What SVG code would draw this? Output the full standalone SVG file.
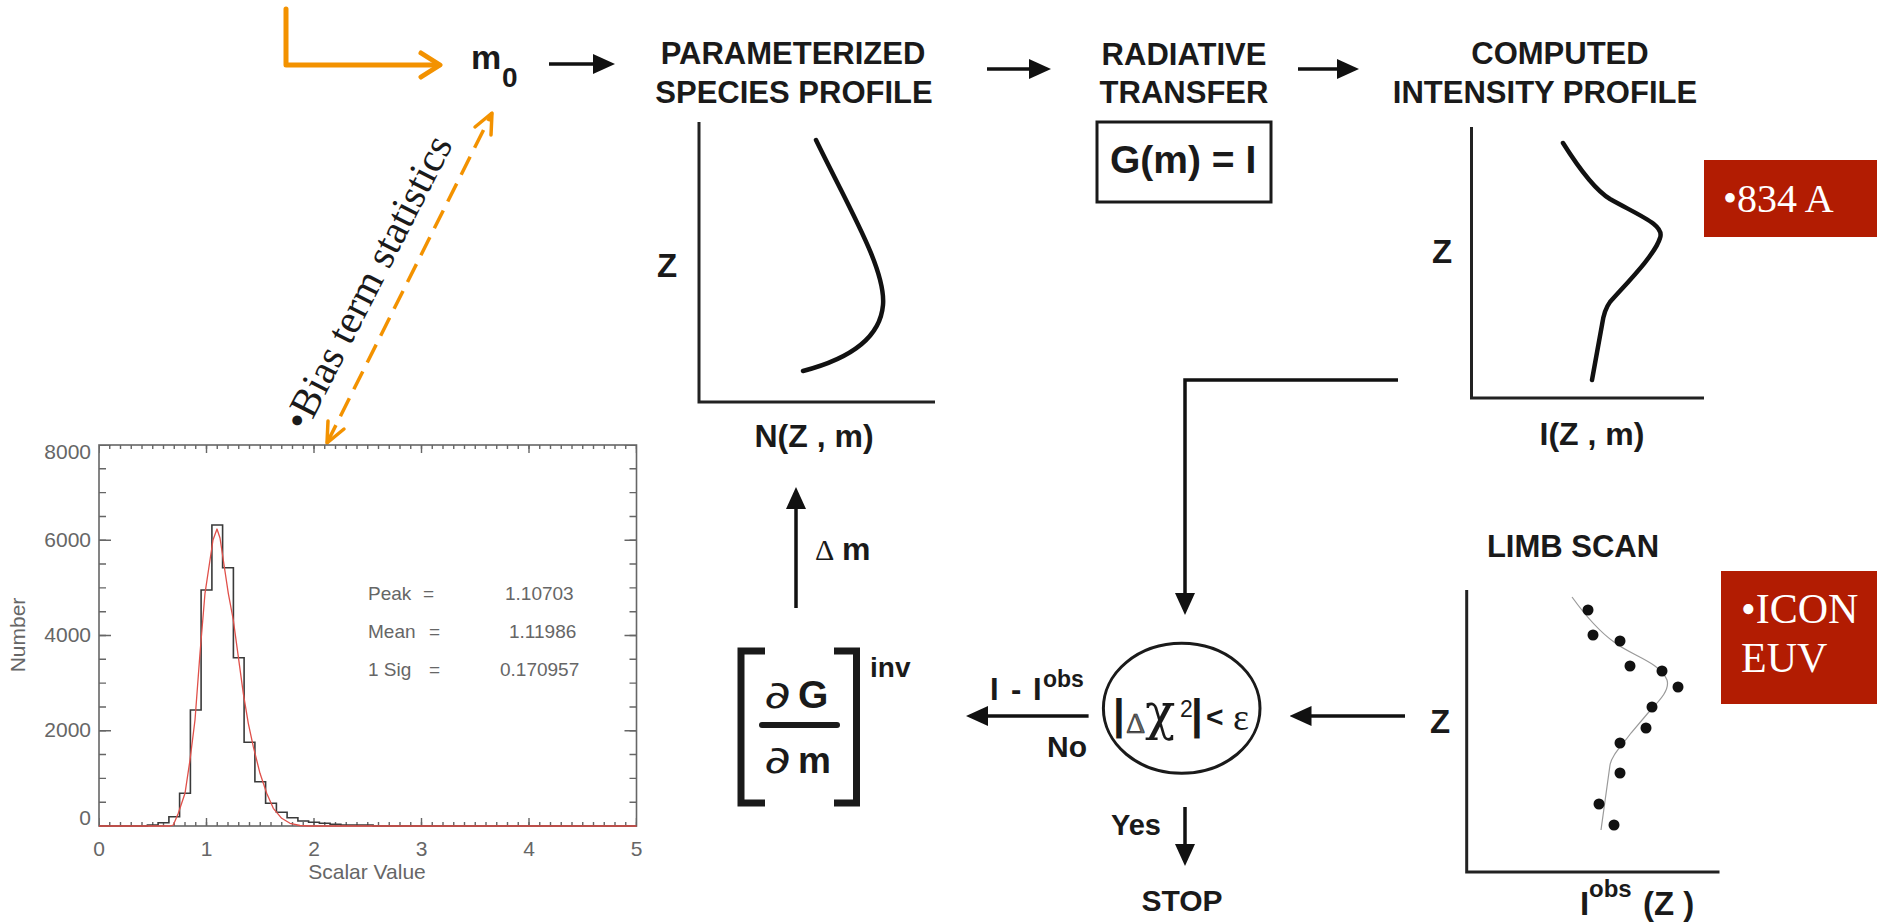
<svg xmlns="http://www.w3.org/2000/svg" width="1877" height="923" viewBox="0 0 1877 923">
<defs>
<style>
.lbl{font-family:"Liberation Sans",Arial,sans-serif;font-weight:bold;fill:#1a1a1a}
.ttl{font-family:"Liberation Sans",Arial,sans-serif;font-weight:bold;fill:#1a1a1a;font-size:31px;text-anchor:middle}
.ser{font-family:"Liberation Serif","Times New Roman",serif;fill:#1a1a1a}
.wht{font-family:"Liberation Serif","Times New Roman",serif;fill:#ffffff}
.axis{fill:none;stroke:#222;stroke-width:3}
.curve{fill:none;stroke:#111;stroke-width:4.5;stroke-linecap:round}
.conn{fill:none;stroke:#111;stroke-width:3.5}
.org{fill:none;stroke:#F39200;stroke-width:5;stroke-linecap:round;stroke-linejoin:round}
.plt{font-family:"Liberation Sans",Arial,sans-serif;fill:#666;font-size:21px}
.stat{font-family:"Liberation Sans",Arial,sans-serif;fill:#666;font-size:19px}
.tick{fill:none;stroke:#666}
.redbox{fill:#B21C02}
.pd{font-family:"DejaVu Sans","Liberation Sans",sans-serif;fill:#1a1a1a;font-size:36px}
</style>
<marker id="ah" markerUnits="userSpaceOnUse" markerWidth="22" markerHeight="20" refX="16" refY="10" orient="auto">
<path d="M0,0 L22,10 L0,20 z" fill="#111"/>
</marker>
</defs>
<rect width="1877" height="923" fill="#ffffff"/>

<g id="orange-input">
<path class="org" d="M286,9 V65 H439"/>
<path class="org" d="M421,53 L440,65 L421,77"/>
</g>

<g id="m0">
<text class="lbl" x="471" y="69" font-size="34">m</text>
<text class="lbl" x="502" y="87" font-size="28">0</text>
</g>

<g id="species-profile">
<text class="ttl" x="793" y="64">PARAMETERIZED</text>
<text class="ttl" x="794" y="103">SPECIES PROFILE</text>
<path class="axis" d="M699,122 V402 H935"/>
<text class="lbl" x="657" y="277" font-size="33">Z</text>
<path class="curve" d="M816,140 C850,210 886,270 883,305 C880,340 845,360 803,371"/>
<text class="lbl" x="814" y="447" font-size="32" text-anchor="middle">N(Z , m)</text>
</g>

<g id="radiative-transfer">
<text class="ttl" x="1184" y="65">RADIATIVE</text>
<text class="ttl" x="1184" y="103">TRANSFER</text>
<rect x="1097" y="122" width="174" height="80" fill="none" stroke="#1a1a1a" stroke-width="3"/>
<text class="lbl" x="1110" y="173" font-size="39">G(m) = I</text>
</g>

<g id="computed-intensity">
<text class="ttl" x="1560" y="64">COMPUTED</text>
<text class="ttl" x="1545" y="103">INTENSITY PROFILE</text>
<path class="axis" d="M1471.5,127 V398 H1704"/>
<text class="lbl" x="1432" y="263" font-size="33">Z</text>
<path class="curve" d="M1563,143 C1580,170 1595,190 1610,199 C1640,216 1665,225 1660,238 C1655,255 1625,285 1610,302 C1604,310 1603,318 1602,325 L1592,380"/>
<text class="lbl" x="1592" y="445" font-size="32" text-anchor="middle">I(Z , m)</text>
</g>

<g id="label-834">
<rect class="redbox" x="1704" y="160" width="173" height="77"/>
<text class="wht" x="1723" y="212" font-size="40">•834 A</text>
</g>

<g id="label-icon">
<rect class="redbox" x="1721" y="571" width="156" height="133"/>
<text class="wht" x="1741" y="623" font-size="42">•ICON</text>
<text class="wht" x="1741" y="672" font-size="42">EUV</text>
</g>

<g id="limb-scan">
<text class="ttl" x="1573" y="557">LIMB SCAN</text>
<path class="axis" d="M1466.7,590 V872 H1719.5"/>
<text class="lbl" x="1430" y="733" font-size="33">Z</text>
<path fill="none" stroke="#9a9a9a" stroke-width="1.2" d="M1572,597 C1585,615 1600,632 1614,642 C1630,655 1660,662 1667,680 C1670,690 1660,700 1648,713 L1631,733 C1620,748 1612,755 1610,765 L1601,830"/>
<g fill="#111">
<circle cx="1588" cy="610" r="5.5"/>
<circle cx="1593" cy="635" r="5.5"/>
<circle cx="1620" cy="641" r="5.5"/>
<circle cx="1630" cy="666" r="5.5"/>
<circle cx="1662" cy="671" r="5.5"/>
<circle cx="1678" cy="687" r="5.5"/>
<circle cx="1652" cy="707" r="5.5"/>
<circle cx="1646" cy="728" r="5.5"/>
<circle cx="1620" cy="743" r="5.5"/>
<circle cx="1620" cy="773" r="5.5"/>
<circle cx="1599" cy="804" r="5.5"/>
<circle cx="1614" cy="825" r="5.5"/>
</g>
<text class="lbl" x="1580" y="915" font-size="33">I</text>
<text class="lbl" x="1589" y="897" font-size="24">obs</text>
<text class="lbl" x="1643" y="915" font-size="33">(Z )</text>
</g>

<g id="convergence-test">
<ellipse cx="1181.7" cy="708.3" rx="78.3" ry="65" fill="none" stroke="#1a1a1a" stroke-width="3"/>
<text class="lbl" x="1113" y="729" font-size="42">|</text>
<text x="1126" y="733" font-size="30" fill="#666" stroke="#222" stroke-width="0.6" font-family="Liberation Serif, serif">Δ</text>
<text x="1145" y="729" font-size="50" fill="#1a1a1a" font-family="DejaVu Serif, Liberation Serif, serif">χ</text>
<text x="1180" y="717" font-size="23" fill="#1a1a1a" font-family="Liberation Sans, sans-serif">2</text>
<text class="lbl" x="1191" y="729" font-size="42">|</text>
<text class="lbl" x="1206" y="727" font-size="30">&lt;</text>
<text class="ser" x="1233" y="730" font-size="38">ε</text>
</g>

<g id="stop">
<text class="lbl" x="1111" y="835" font-size="29">Yes</text>
<text class="lbl" x="1182" y="911" font-size="30" text-anchor="middle">STOP</text>
</g>

<g id="no-branch">
<text class="lbl" x="990" y="700" font-size="31">I</text>
<text class="lbl" x="1011" y="700" font-size="31">-</text>
<text class="lbl" x="1033" y="700" font-size="31">I</text>
<text class="lbl" x="1043" y="687" font-size="23">obs</text>
<text class="lbl" x="1047" y="757" font-size="30">No</text>
</g>

<g id="jacobian">
<path d="M765,651 H741 V803 H765" fill="none" stroke="#1a1a1a" stroke-width="7"/>
<path d="M834,651 H856.5 V803 H834" fill="none" stroke="#1a1a1a" stroke-width="7"/>
<line x1="762" y1="725" x2="837" y2="725" stroke="#1a1a1a" stroke-width="6" stroke-linecap="round"/>
<text class="pd" x="0" y="0" transform="translate(764,708) scale(1.45,1.05)">∂</text>
<text class="lbl" x="798" y="708" font-size="39">G</text>
<text class="pd" x="0" y="0" transform="translate(764,773) scale(1.45,1.05)">∂</text>
<text class="lbl" x="798" y="773" font-size="37">m</text>
<text class="lbl" x="870" y="677" font-size="28">inv</text>
</g>

<g id="delta-m">
<text class="ser" x="815" y="560" font-size="30">Δ</text>
<text class="lbl" x="842" y="560" font-size="32">m</text>
</g>

<g id="bias-term">
<path d="M327,443 L492,113" fill="none" stroke="#F39200" stroke-width="3.5" stroke-dasharray="20 10"/>
<path d="M475,127 L492,113 L491,135" fill="none" stroke="#F39200" stroke-width="3.5" stroke-linejoin="round" stroke-linecap="round"/>
<path d="M328,421 L327,443 L344,429" fill="none" stroke="#F39200" stroke-width="3.5" stroke-linejoin="round" stroke-linecap="round"/>
<text class="ser" x="0" y="0" font-size="41" transform="translate(306,433) rotate(-63)">•Bias term statistics</text>
</g>

<g id="histogram">
<rect x="99" y="445" width="537.5" height="381" fill="none" stroke="#666" stroke-width="1.6"/>
<line class="tick" x1="99" y1="824" x2="636.5" y2="824" stroke-width="4" stroke-dasharray="1.4 9.35" stroke-dashoffset="0.7"/>
<line class="tick" x1="99" y1="822" x2="636.5" y2="822" stroke-width="8" stroke-dasharray="1.4 106.1" stroke-dashoffset="0.7"/>
<line class="tick" x1="99" y1="447" x2="636.5" y2="447" stroke-width="4" stroke-dasharray="1.4 9.35" stroke-dashoffset="0.7"/>
<line class="tick" x1="99" y1="449" x2="636.5" y2="449" stroke-width="8" stroke-dasharray="1.4 106.1" stroke-dashoffset="0.7"/>
<line class="tick" x1="102.5" y1="826" x2="102.5" y2="445" stroke-width="7" stroke-dasharray="1.4 22.4125" stroke-dashoffset="0.7"/>
<line class="tick" x1="105" y1="826" x2="105" y2="445" stroke-width="12" stroke-dasharray="1.4 93.85" stroke-dashoffset="0.7"/>
<line class="tick" x1="633" y1="826" x2="633" y2="445" stroke-width="7" stroke-dasharray="1.4 22.4125" stroke-dashoffset="0.7"/>
<line class="tick" x1="630.5" y1="826" x2="630.5" y2="445" stroke-width="12" stroke-dasharray="1.4 93.85" stroke-dashoffset="0.7"/>
<path fill="none" stroke="#3a3a3a" stroke-width="1.6" d="M99,826 H147.4 V825 H158.1 V822.7 H168.9 V816.7 H179.6 V793.3 H190.4 V710 H201.1 V590 H211.9 V525 H222.6 V567.7 H233.4 V657.7 H244.1 V742.3 H254.9 V781.7 H265.6 V803.3 H276.4 V812.3 H287.1 V817.7 H297.9 V821 H308.6 V822.3 H319.4 V823.3 H330.1 V824.3 H340.9 V825 H373.1 V826 H636.5"/>
<path fill="none" stroke="#E0504A" stroke-width="1.3" stroke-linejoin="round" d="M99,826 H170 L173.3,825 L178.3,813.3 L185,793.3 L190,760 L195,720 L200,653.3 L205,593.3 L210,560 L213,540 L217,529 L220,538 L223.3,560 L228.3,593.3 L233.3,620 L238.3,656.7 L243.3,693.3 L248.3,723.3 L253.3,746.7 L260,773.3 L266.7,793.3 L273.3,808.3 L281.7,818.3 L290,823.3 L300,825.5 L310,826 H636.5"/>
<g class="plt" text-anchor="end">
<text x="91" y="459">8000</text>
<text x="91" y="547">6000</text>
<text x="91" y="642">4000</text>
<text x="91" y="737">2000</text>
<text x="91" y="825">0</text>
</g>
<g class="plt" text-anchor="middle">
<text x="99" y="856">0</text>
<text x="206.5" y="856">1</text>
<text x="314" y="856">2</text>
<text x="421.5" y="856">3</text>
<text x="529" y="856">4</text>
<text x="636.5" y="856">5</text>
<text x="367" y="879">Scalar Value</text>
<text x="0" y="0" transform="translate(25,635) rotate(-90)">Number</text>
</g>
<g class="stat">
<text x="368" y="600">Peak</text><text x="423" y="600">=</text><text x="505" y="600">1.10703</text>
<text x="368" y="638">Mean</text><text x="429" y="638">=</text><text x="509" y="638">1.11986</text>
<text x="368" y="676">1  Sig</text><text x="429" y="676">=</text><text x="500" y="676">0.170957</text>
</g>
</g>

<g id="connectors">
<line class="conn" x1="549" y1="64" x2="609" y2="64" marker-end="url(#ah)"/>
<line class="conn" x1="987" y1="69" x2="1045" y2="69" marker-end="url(#ah)"/>
<line class="conn" x1="1298" y1="69" x2="1353" y2="69" marker-end="url(#ah)"/>
<path class="conn" d="M1398,380 H1185 V609" marker-end="url(#ah)"/>
<line class="conn" x1="1405" y1="716" x2="1295.5" y2="716" marker-end="url(#ah)"/>
<line class="conn" x1="1088.6" y1="716" x2="972" y2="716" marker-end="url(#ah)"/>
<line class="conn" x1="1185" y1="807" x2="1185" y2="860" marker-end="url(#ah)"/>
<line class="conn" x1="796" y1="608" x2="796" y2="493" marker-end="url(#ah)"/>
</g>
</svg>
